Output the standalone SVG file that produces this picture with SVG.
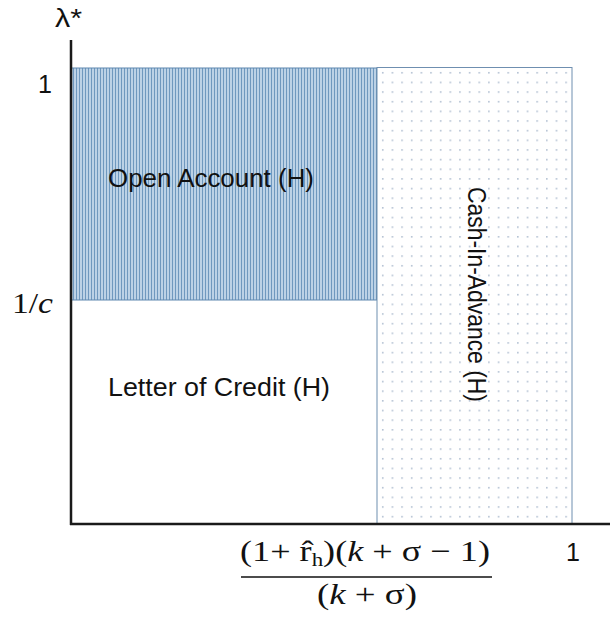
<svg xmlns="http://www.w3.org/2000/svg" width="610" height="619" viewBox="0 0 610 619">
<style>
.lbl{font-family:"Liberation Sans","Open Sans",Arial,sans-serif;font-size:25px;fill:#111}
.math{font-family:"Liberation Serif","DejaVu Serif","Times New Roman",serif;fill:#111}
.it{font-style:italic}
.axis{stroke:#1a1a1a;stroke-width:2.5;fill:none}
</style>
<defs>
<pattern id="vstripes" patternUnits="userSpaceOnUse" width="3" height="10" x="72" y="0">
<rect width="3" height="10" fill="#bcd2e6"/>
<rect x="1" width="1" height="10" fill="#6f98be"/>
</pattern>
<pattern id="dots" patternUnits="userSpaceOnUse" width="9.65" height="9.65" x="380" y="70">
<rect width="9.65" height="9.65" fill="#ffffff"/>
<rect x="2" y="2" width="1.5" height="1.5" fill="#a8b8cc"/>
</pattern>
</defs>
<rect width="610" height="619" fill="#ffffff"/>

<g id="open-account">
<rect x="71" y="68" width="306" height="232" fill="url(#vstripes)" stroke="#5f88b0" stroke-width="1"/>
<text class="lbl" x="108" y="187" textLength="206" lengthAdjust="spacingAndGlyphs">Open Account (H)</text>
</g>

<g id="letter-of-credit">
<text class="lbl" x="108" y="396" textLength="222" lengthAdjust="spacingAndGlyphs">Letter of Credit (H)</text>
</g>

<g id="cash-in-advance">
<rect x="377" y="67.5" width="195" height="456.5" fill="url(#dots)" stroke="#6f8fb0" stroke-width="1"/>
<text class="lbl" transform="translate(468,187) rotate(90)" x="0" y="0" textLength="215" lengthAdjust="spacingAndGlyphs">Cash-In-Advance (H)</text>
</g>

<g id="axes">
<line class="axis" x1="71" y1="40" x2="71" y2="525"/>
<line class="axis" x1="70" y1="524" x2="610" y2="524"/>
</g>

<g id="y-labels">
<text class="lbl" x="55" y="27" font-size="25px" textLength="27" lengthAdjust="spacingAndGlyphs">λ*</text>
<text class="lbl" x="38" y="93" font-size="21px">1</text>
<text class="math" x="12" y="313" font-size="29px" textLength="41" lengthAdjust="spacingAndGlyphs">1/<tspan class="it">c</tspan></text>
</g>

<g id="x-labels">
<text class="math" x="240" y="561" font-size="30px" textLength="250" lengthAdjust="spacingAndGlyphs">(1+ r̂<tspan font-size="19px" dy="5">h</tspan><tspan dy="-5">)(</tspan><tspan class="it">k</tspan> + σ − 1)</text>
<line x1="241" y1="577" x2="492" y2="577" stroke="#111" stroke-width="1.5"/>
<text class="math" x="317" y="604" font-size="30px" textLength="100" lengthAdjust="spacingAndGlyphs">(<tspan class="it">k</tspan> + σ)</text>
<text class="lbl" x="566" y="561" font-size="21px">1</text>
</g>
</svg>
